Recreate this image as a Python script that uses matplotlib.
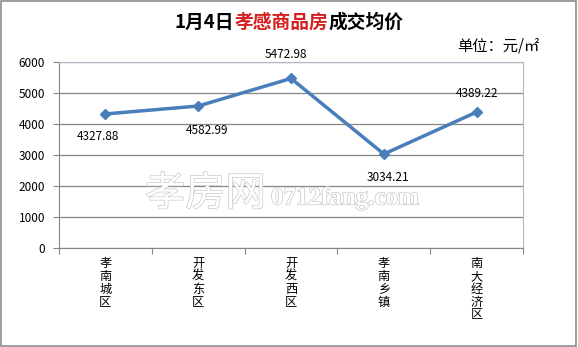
import matplotlib.pyplot as plt
import matplotlib.patheffects as pe
import numpy as np

plt.rcParams['font.family'] = ['Noto Sans CJK SC', 'DejaVu Sans']

# --- data ---
districts = ["孝南城区", "开发东区", "开发西区", "孝南乡镇", "南大经济区"]
prices = [4327.88, 4582.99, 5472.98, 3034.21, 4389.22]
y_ticks = [0, 1000, 2000, 3000, 4000, 5000, 6000]

# label offsets (px) relative to each point
label_dx = [-7, 9, -5, 4, 0]
label_dy = [-23, -24, 24, -23, 19]

fig = plt.figure(figsize=(5.78, 3.47), dpi=100)
fig.patch.set_facecolor('white')

# outer frame
fig.add_artist(plt.Rectangle((0.002, 0.004), 0.995, 0.992, transform=fig.transFigure,
                             fill=False, edgecolor='#8c8c8c', linewidth=1.2))

ax = fig.add_axes([0.102, 0.285, 0.803, 0.536])
x = np.arange(len(districts))
ax.plot(x, prices, color='#4a7ebb', linewidth=2.5, marker='D', markersize=5,
        markerfacecolor='#4a7ebb', markeredgecolor='#4a7ebb', zorder=3)

ax.set_xlim(-0.5, len(districts) - 0.5)
ax.set_ylim(0, 6000)
ax.set_yticks(y_ticks)
ax.set_yticklabels([str(v) for v in y_ticks], fontsize=8.5)
ax.yaxis.grid(True, color='#868686', linewidth=0.9)
ax.set_axisbelow(True)

# category labels: stacked characters, ticks at boundaries
ax.set_xticks(np.arange(len(districts) + 1) - 0.5)
ax.set_xticklabels([])
ax.tick_params(axis='x', length=4, color='#868686', direction='out')
ax.tick_params(axis='y', length=4, color='#868686', direction='out', pad=6)
for i, name in enumerate(districts):
    for k, ch in enumerate(name):
        ax.annotate(ch, (i, 0), xytext=(0, -(9 + 12.8 * k) * 0.72),
                    textcoords='offset points', ha='center', va='top', fontsize=8.8,
                    annotation_clip=False)

for side in ['top', 'right']:
    ax.spines[side].set_color('#b0b8c8')
    ax.spines[side].set_linewidth(0.8)
ax.spines['left'].set_color('#868686')
ax.spines['bottom'].set_color('#868686')

# data labels
for i, v in enumerate(prices):
    ax.annotate(f"{v:.2f}", (i, v), xytext=(label_dx[i] * 0.72, label_dy[i] * 0.72),
                textcoords='offset points', ha='center', va='center', fontsize=8.5)

# watermark (hollow outlined text)
outline = [pe.Stroke(linewidth=0.9, foreground='#c4c4c4'), pe.Normal()]
fig.text(145 / 578, 1 - 194 / 347, "孝房网", fontsize=29, color='white', ha='left',
         va='center', path_effects=outline, zorder=0)
fig.text(271 / 578, 1 - 198 / 347, "0712fang.com", fontsize=18, color='white',
         ha='left', va='center', family='Liberation Serif', fontweight='bold',
         path_effects=outline, zorder=0)

# title in three colour parts
t1 = fig.text(0.30, 0.935, "1月4日", fontsize=13.5, fontweight='bold', ha='left', va='center')
fig.canvas.draw()
r = fig.canvas.get_renderer()
bb = t1.get_window_extent(r)
t2 = fig.text(bb.x1 / fig.bbox.width, 0.935, "孝感商品房", fontsize=13.5, fontweight='bold',
              color='#d42020', ha='left', va='center')
bb2 = t2.get_window_extent(r)
t3 = fig.text(bb2.x1 / fig.bbox.width, 0.935, "成交均价", fontsize=13.5, fontweight='bold',
              ha='left', va='center')
bb3 = t3.get_window_extent(r)
total = bb3.x1 - bb.x0
shift = (fig.bbox.width / 2 - total / 2) - bb.x0
for t in (t1, t2, t3):
    px, py = t.get_position()
    t.set_position((px + shift / fig.bbox.width, py))

fig.text(0.933, 0.868, "单位：元/㎡", fontsize=11, ha='right', va='center')

fig.savefig("out.png", dpi=100)
